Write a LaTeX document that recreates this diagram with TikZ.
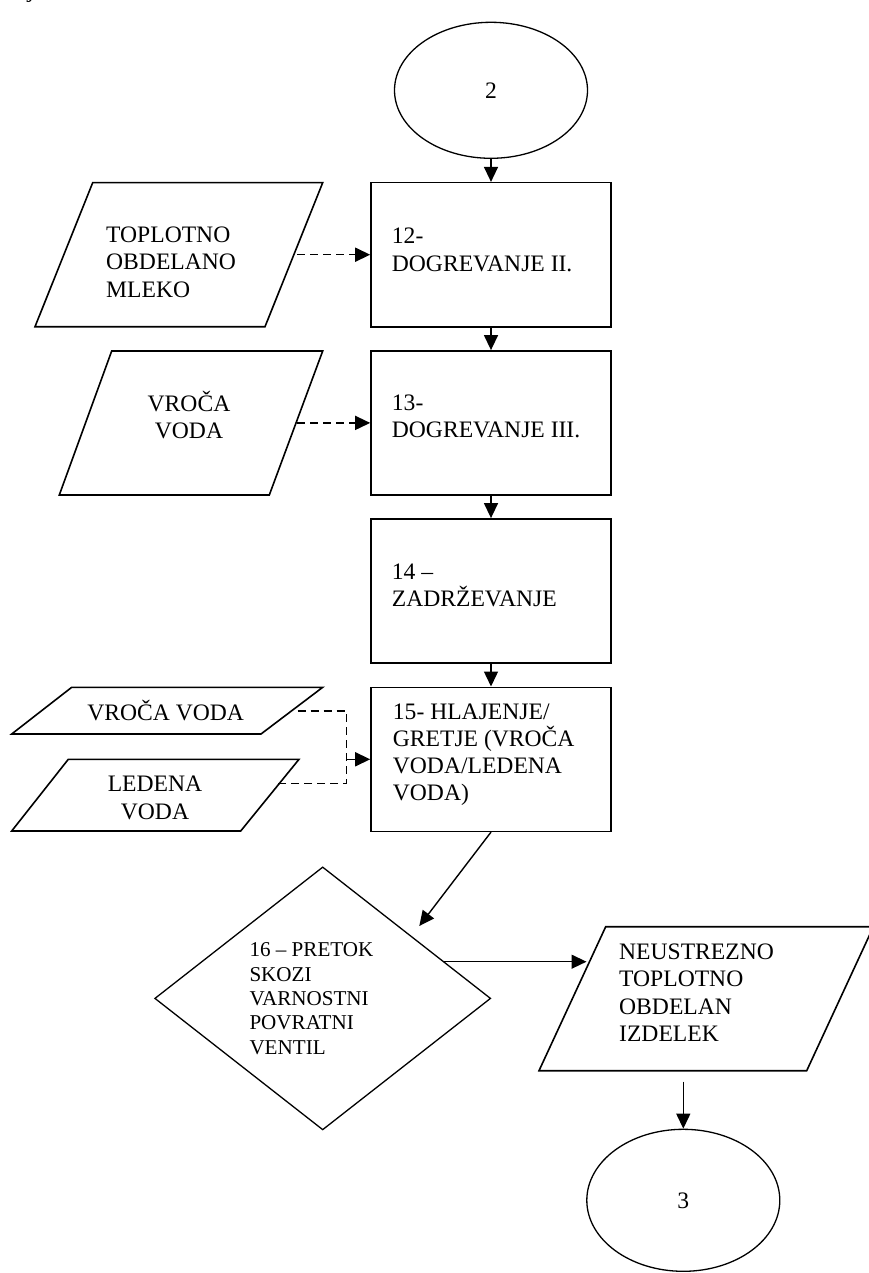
\documentclass[tikz,border=0pt]{standalone}
\usepackage{fontspec}
\setmainfont{Liberation Serif}
\usetikzlibrary{shapes.geometric,arrows.meta}

\begin{document}
\begin{tikzpicture}[x=1pt,y=-1pt,
  box/.style={draw,line width=1.6pt,rectangle,minimum width=240pt,minimum height=144pt,inner sep=0pt},
  term/.style={draw,line width=1.3pt,ellipse,inner sep=0pt,minimum width=193pt,
    font=\fontsize{23.6}{27.4}\selectfont},
  decision/.style={draw,line width=1.3pt,diamond,inner sep=0pt,minimum width=336pt,minimum height=263pt},
  io/.style={draw,line width=1.6pt,line join=miter},
  txt/.style={inner sep=0pt,align=left,anchor=base west,font=\fontsize{23.6}{27.4}\selectfont},
  ctxt/.style={inner sep=0pt,align=center,anchor=base,font=\fontsize{23.6}{27.4}\selectfont},
  flow/.style={line width=1.4pt,-{Triangle[length=15pt,width=14pt]}},
  feed/.style={line width=1.5pt,dash pattern=on 8pt off 5pt},
]
\useasboundingbox (0,0) rectangle (869,1273);

% fragment of a letter at the top edge
\node[inner sep=0pt,anchor=base west,font=\fontsize{23.6}{27.4}\selectfont\itshape] (frag) at (29,-2.4) {j};

% connector terminals
\node[term,minimum height=136pt] (e2) at (491,90.3) {2};
\node[term,minimum height=142pt] (e3) at (683.3,1200.3) {3};

% process boxes
\node[box] (b12) at (491,254.7) {};
\node[box] (b13) at (491,422.9) {};
\node[box] (b14) at (491,590.9) {};
\node[box] (b15) at (491,759.3) {};

% texts are placed by the baseline of their last line
\node[txt] (t12) at (391.7,271) {12-\\DOGREVANJE II.};
\node[txt] (t13) at (391.7,437.7) {13-\\DOGREVANJE III.};
\node[txt] (t14) at (391.7,606.7) {14 –\\ZADRŽEVANJE};
\node[txt,font=\fontsize{23.6}{26.7}\selectfont] (t15) at (392.7,800)
  {15- HLAJENJE/\\GRETJE (VROČA\\VODA/LEDENA\\VODA)};

% decision
\node[decision] (dia) at (322.7,998.4) {};
\node[txt,font=\fontsize{21.1}{24.4}\selectfont] (t16) at (249.3,1054.3)
  {16 – PRETOK\\SKOZI\\VARNOSTNI\\POVRATNI\\VENTIL};

% input / output parallelograms
\draw[io] (92.7,182.7) -- (322.7,182.7) -- (265,326.7) -- (35,326.7) -- cycle;
\node[txt] (tp1) at (106,297.3) {TOPLOTNO\\OBDELANO\\MLEKO};

\draw[io] (111.7,351) -- (322.7,351) -- (269.3,495) -- (59.3,495) -- cycle;
\node[ctxt] (tp2) at (189,438.7) {VROČA\\VODA};

\draw[io] (71.7,687.3) -- (322.7,687.3) -- (261,734) -- (11.7,734) -- cycle;
\node[ctxt] (tp3) at (165.7,720) {VROČA VODA};

\draw[io] (68.3,759.3) -- (299,759.3) -- (240.7,831) -- (11.7,831) -- cycle;
\node[ctxt] (tp4) at (155,819) {LEDENA\\VODA};

\draw[io] (605.7,926.7) -- (873.4,926.7) -- (806.7,1070.7) -- (539,1070.7) -- cycle;
\node[txt] (tp5) at (619,1041.7) {NEUSTREZNO\\TOPLOTNO\\OBDELAN\\IZDELEK};

% connector end points on the slanted shapes
\coordinate (p1r) at (297,254.7);
\coordinate (p2r) at (297,422.9);
\coordinate (p3r) at (297.7,711);
\coordinate (p4r) at (275,783.3);
\coordinate (jn)  at (346.7,759.3);
\coordinate (dtip) at (419.3,926);
\coordinate (dout) at (443.5,961.7);
\coordinate (p5l) at (586.5,961.7);
\coordinate (p5b) at (683.3,1081.7);

% main flow
\draw[flow] (e2.south) -- (b12.north);
\draw[flow] (b12.south) -- (b13.north);
\draw[flow] (b13.south) -- (b14.north);
\draw[flow] (b14.south) -- (b15.north);
\draw[flow] (b15.south) -- (dtip);
\draw[flow] (dout) -- (p5l);
\draw[flow] (p5b) -- (e3.north);

% feeds
\draw[feed,-{Triangle[length=15pt,width=14pt]}] (p1r) -- (b12.west);
\draw[feed,-{Triangle[length=15pt,width=14pt]}] (p2r) -- (b13.west);
\draw[feed] (p3r) -| (jn) |- (p4r);
\draw[line width=1.5pt,-{Triangle[length=15pt,width=14pt]}] (jn) -- (b15.west);
\end{tikzpicture}
\end{document}
